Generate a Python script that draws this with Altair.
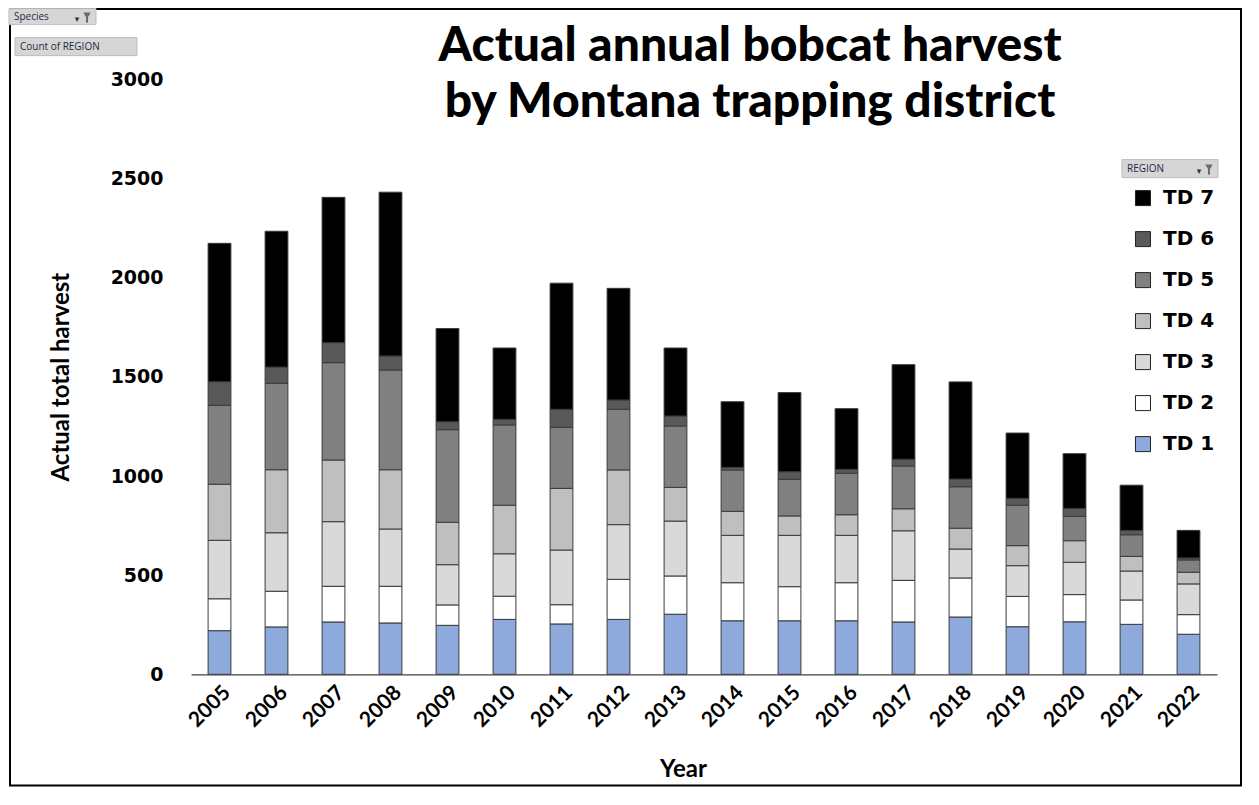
import altair as alt
import pandas as pd

# ---------------- data ----------------
years = [str(y) for y in range(2005, 2023)]
td1 = [220, 239, 264, 259, 247, 277, 254, 277, 303, 270, 270, 270, 264, 289, 240, 265, 252, 202]
td2 = [161, 180, 180, 185, 103, 117, 97, 202, 193, 192, 172, 192, 210, 197, 153, 137, 123, 99]
td3 = [295, 295, 326, 289, 203, 214, 276, 276, 277, 239, 259, 239, 250, 146, 155, 163, 146, 155]
td4 = [283, 318, 311, 299, 214, 245, 311, 276, 170, 121, 98, 104, 111, 105, 101, 109, 74, 59]
td5 = [398, 436, 491, 503, 467, 405, 308, 306, 310, 209, 185, 209, 216, 209, 204, 123, 109, 62]
td6 = [119, 82, 101, 71, 40, 28, 91, 47, 50, 13, 38, 20, 34, 39, 35, 40, 22, 10]
td7 = [698, 685, 733, 826, 470, 360, 636, 563, 343, 331, 399, 306, 477, 490, 329, 276, 228, 139]

districts = ["TD 1", "TD 2", "TD 3", "TD 4", "TD 5", "TD 6", "TD 7"]
district_colors = ["#8EA9DB", "#FFFFFF", "#D9D9D9", "#BFBFBF", "#808080", "#595959", "#000000"]
y_ticks = [0, 500, 1000, 1500, 2000, 2500, 3000]

title_lines = ["Actual annual bobcat harvest", "by Montana trapping district"]

series = [td1, td2, td3, td4, td5, td6, td7]
rows = []
for i, yr in enumerate(years):
    for k, name in enumerate(districts):
        rows.append({"Year": yr, "District": name, "idx": k + 1, "Harvest": series[k][i]})
df = pd.DataFrame(rows)

legend_order = districts[::-1]
legend_colors = district_colors[::-1]

PLOT_W = 1026
PLOT_H = 594.7

bars = alt.Chart(df).mark_bar(stroke="#3a3a3a", strokeWidth=1).encode(
    x=alt.X(
        "Year:N",
        sort=years,
        scale=alt.Scale(paddingInner=0.6, paddingOuter=0.3),
        axis=alt.Axis(
            title="Year",
            labelAngle=-45,
            labelFont="Lato",
            labelFontSize=21,
            labelFontWeight="bold",
            labelColor="black",
            labelPadding=7,
            ticks=False,
            domainColor="#404040",
            domainWidth=1.2,
            titleFont="Lato",
            titleFontSize=24,
            titleFontWeight="bold",
            titleColor="black",
            titleX=492,
            titleY=95,
            titleAlign="center",
            titleBaseline="middle",
        ),
    ),
    y=alt.Y(
        "Harvest:Q",
        stack="zero",
        scale=alt.Scale(domain=[0, 3000], nice=False),
        axis=alt.Axis(
            values=y_ticks,
            format="d",
            title="Actual total harvest",
            grid=False,
            domain=False,
            ticks=False,
            labelFont="DejaVu Sans",
            labelFontSize=19,
            labelFontWeight="bold",
            labelColor="black",
            labelPadding=28,
            titleFont="Lato",
            titleFontSize=24,
            titleFontWeight="bold",
            titleColor="black",
            titleAngle=-90,
            titleX=-130,
            titleY=297,
            titleAlign="center",
            titleBaseline="middle",
        ),
    ),
    color=alt.Color(
        "District:N",
        scale=alt.Scale(domain=legend_order, range=legend_colors),
        legend=alt.Legend(
            title=None,
            orient="none",
            legendX=942,
            legendY=108.5,
            symbolType="square",
            symbolSize=225,
            symbolStrokeColor="#222222",
            symbolStrokeWidth=1,
            labelFont="DejaVu Sans",
            labelFontSize=20,
            labelFontWeight="bold",
            labelColor="black",
            labelOffset=10,
            rowPadding=21,
            padding=0,
        ),
    ),
    order=alt.Order("idx:Q", sort="ascending"),
)

one = pd.DataFrame({"k": [0]})

# chart title as two text lines
title1 = alt.Chart(pd.DataFrame({"t": [title_lines[0]]})).mark_text(
    font="Lato", fontSize=48, fontWeight=900, color="black", align="center", baseline="middle"
).encode(text="t:N", x=alt.value(559), y=alt.value(-33))
title2 = alt.Chart(pd.DataFrame({"t": [title_lines[1]]})).mark_text(
    font="Lato", fontSize=48, fontWeight=900, color="black", align="center", baseline="middle"
).encode(text="t:N", x=alt.value(559), y=alt.value(23))

# outer frame
frame = alt.Chart(one).mark_rect(fill=None, stroke="black", strokeWidth=2).encode(
    x=alt.value(-181), x2=alt.value(1050), y=alt.value(-70.5), y2=alt.value(706)
)

# pivot-table field buttons
def button(x0, x1, y0, y1, label, arrow):
    rect = alt.Chart(one).mark_rect(fill="#D6D6D6", stroke="#BDBDBD", strokeWidth=1).encode(
        x=alt.value(x0), x2=alt.value(x1), y=alt.value(y0), y2=alt.value(y1)
    )
    txt = alt.Chart(pd.DataFrame({"t": [label]})).mark_text(
        font="Open Sans", fontSize=10, color="#1f2a44", align="left", baseline="middle"
    ).encode(text="t:N", x=alt.value(x0 + 5), y=alt.value((y0 + y1) / 2))
    parts = [rect, txt]
    if arrow:
        arr = alt.Chart(pd.DataFrame({"t": ["▾"]})).mark_text(
            font="DejaVu Sans", fontSize=9, color="#333333", align="center", baseline="middle"
        ).encode(text="t:N", x=alt.value(x1 - 19), y=alt.value((y0 + y1) / 2 + 2))
        fun = alt.Chart(one).mark_point(
            shape="triangle-down", filled=True, color="#6b6b6b", size=55, opacity=1
        ).encode(x=alt.value(x1 - 9), y=alt.value((y0 + y1) / 2 - 1))
        stem = alt.Chart(one).mark_rule(color="#6b6b6b", strokeWidth=2).encode(
            x=alt.value(x1 - 9), y=alt.value((y0 + y1) / 2), y2=alt.value((y0 + y1) / 2 + 6)
        )
        parts += [arr, fun, stem]
    return parts

btns = []
btns += button(-182, -95, -71, -55, "Species", True)
btns += button(-176, -54, -42, -24, "Count of REGION", False)
btns += button(931, 1027, 80, 98, "REGION", True)

chart = alt.layer(bars, title1, title2, frame, *btns).properties(
    width=PLOT_W,
    height=PLOT_H,
    padding={"left": 183, "top": 71.6, "right": 33, "bottom": 113},
    autosize=alt.AutoSizeParams(type="none"),
    background="white",
).configure_view(stroke=None)

chart.save("out.html", embed_options={"renderer": "svg", "actions": False})
